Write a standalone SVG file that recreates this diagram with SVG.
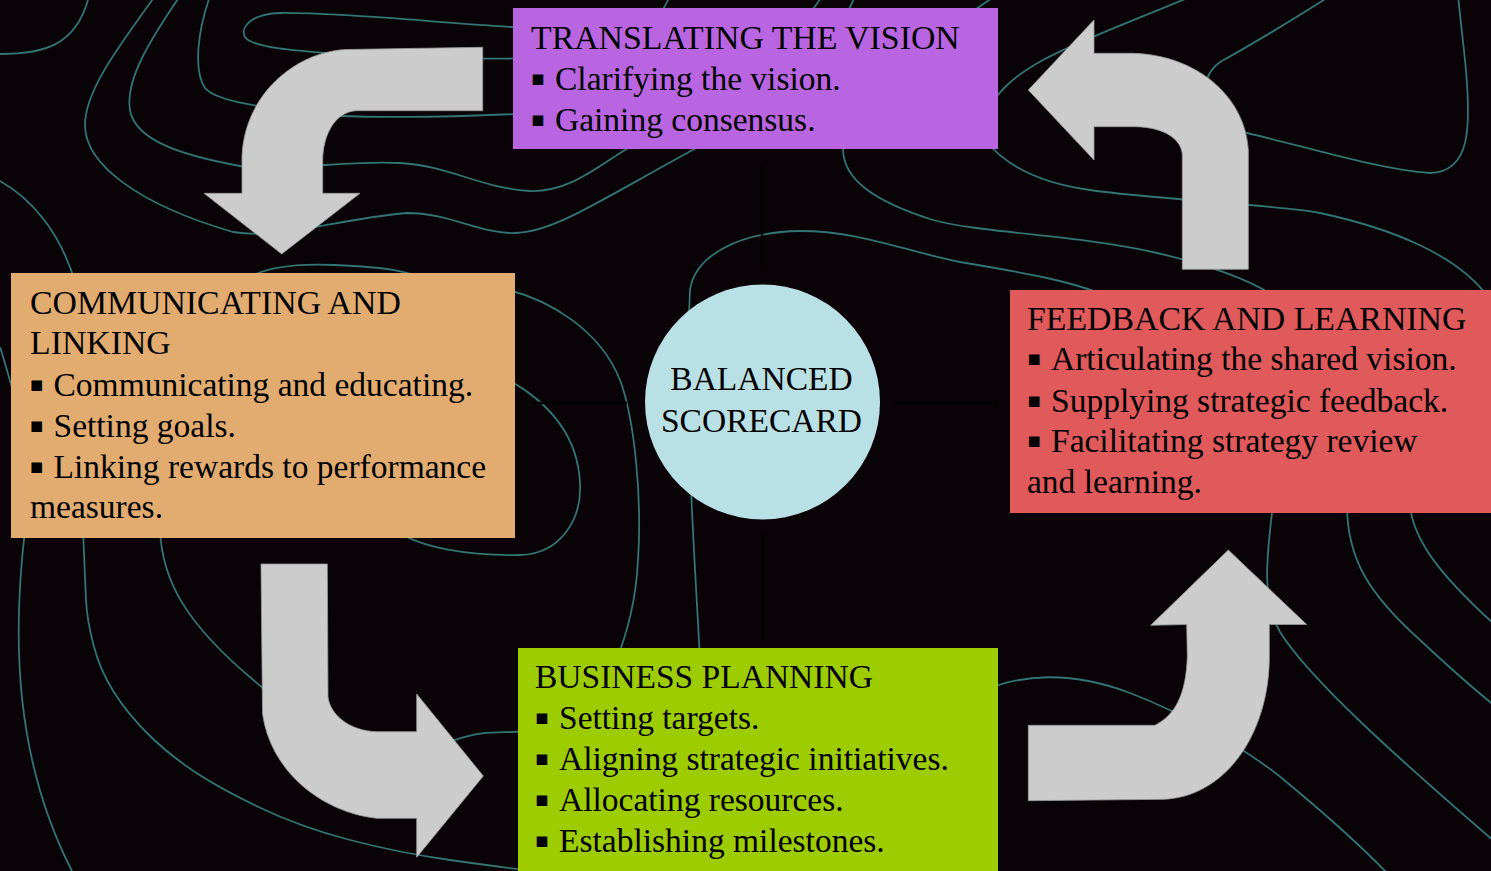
<svg xmlns="http://www.w3.org/2000/svg" width="1491" height="871" viewBox="0 0 1491 871">
  <style>
    .bg{fill:#090206}
    .contour{fill:none;stroke:#337474;stroke-width:1.8}
    .link{stroke:#000;stroke-width:2.5;fill:none}
    .arrow{fill:#cccccc;stroke:#9a9a9a;stroke-width:0.8}
    .t{font-family:"Liberation Serif","Times New Roman",serif;font-size:33.5px;fill:#000}
    .h{font-size:33.8px}
    .b{stroke:#000;stroke-width:2.2px;stroke-linejoin:miter}
    .c{text-anchor:middle}
  </style>

  <!-- background -->
  <rect class="bg" x="0" y="0" width="1491" height="871"/>

  <!-- topographic contour pattern -->
  <g id="contours" class="contour">
    <path d="M0,54 C45,54 75,45 88,0"/>
    <path d="M155,-4 C120,45 85,90 85,125 C85,165 140,205 233,232 C280,240 330,220 407,213 C450,213 480,234 515,233 C555,232 600,200 700,146 C765,110 830,60 855,-4"/>
    <path d="M180,-4 C150,40 125,80 130,110 C135,140 180,155 240,166 C290,172 340,160 400,163 C450,166 480,188 530,191 C570,192 600,165 625,150 C700,100 790,50 822,-4"/>
    <path d="M210,-4 C198,30 193,70 205,88 C215,100 250,105 300,113 C350,119 450,117 515,114 C580,112 640,60 670,-4"/>
    <path d="M530,28 C450,24 340,12 280,13 C250,14 240,28 245,37 C252,48 300,51 340,54 C420,58 480,60 530,58"/>
    <path d="M0,181 C30,198 60,230 76,285"/>
    <path d="M245,285 C250,268 295,263 335,265 C380,267 415,270 432,285"/>
    <path d="M0,347 C5,362 9,378 15,398"/>
    <path d="M25,530 C12,640 15,760 72,871"/>
    <path d="M83,530 L86,600 Q87,620 93.5,645 Q100,670 113.5,691.5 Q127,713 147,733 Q167,753 192,770 Q217,787 258.5,807 Q300,827 350,840 Q400,853 450,860 Q500,867 540,872"/>
    <path d="M160,530 C162,580 185,625 263,688 C295,725 420,752 455,740 S500,735 540,730"/>
    <path d="M395,530 C420,548 470,556 520,555 C560,554 582,520 580,483 C578,440 555,405 505,378"/>
    <path d="M505,289 C550,300 600,330 620,380 C635,420 642,500 638,560 C636,600 628,630 615,665"/>
    <path d="M700,660 C695,560 684,420 690,290 C695,255 740,232 800,231 C860,231 900,250 960,262 C1020,272 1080,282 1115,300"/>
    <path d="M995,-4 C930,40 843,100 843,150 C844,178 870,200 933,220 C980,233 1080,235 1157,253 C1200,263 1250,278 1280,300"/>
    <path d="M985,140 C1005,165 1040,183 1090,190 C1150,199 1280,205 1320,213 C1390,228 1460,255 1490,300"/>
    <path d="M985,115 C995,95 1010,78 1043,60 S1130,22 1190,-3"/>
    <path d="M1330,-4 C1300,15 1260,40 1220,62 C1195,80 1200,120 1247,133 C1300,145 1380,170 1430,173 C1470,172 1472,130 1465,60 L1458,-4"/>
    <path d="M1273,505 C1266,560 1262,600 1280,632 C1310,680 1400,760 1495,842"/>
    <path d="M1347,505 C1347,560 1370,595 1420,640 C1450,668 1475,690 1495,706"/>
    <path d="M1410,505 C1413,540 1440,575 1495,625"/>
    <path d="M985,690 C1020,675 1070,670 1130,693 C1180,712 1250,750 1290,785 C1330,818 1360,845 1390,876"/>
  </g>

  <!-- links from the hub and the cycle of block arrows -->
  <g id="connectors">
    <line class="link" x1="762" y1="167" x2="762" y2="270"/>
    <line class="link" x1="763" y1="535" x2="763" y2="640"/>
    <line class="link" x1="533" y1="403" x2="627" y2="403"/>
    <line class="link" x1="895" y1="403" x2="998" y2="403"/>

    <path id="arrow-vision-to-communicating" class="arrow" d="M482.7,47.3 L346,49.5 C295,52 244,95 242,157 L242,193.3 L204,193.3 L281.7,254 L360,193.3 L322.7,193.3 L322.7,160 C323,135 335,112 356,110.7 L482.7,110.7 Z"/>
    <path id="arrow-communicating-to-planning" class="arrow" d="M261,564 L327.3,564 L328,696.7 C330,715 350,731 376.7,731.7 L416.7,731.7 L416.7,694 L483.3,776 L416.7,857.3 L416.7,818.3 L376.7,818.3 C320,812 270,770 262.5,713.3 Z"/>
    <path id="arrow-planning-to-feedback" class="arrow" d="M1228.3,550 L1306.7,624.5 L1269.3,624.5 L1269.3,660 C1268,735 1225,797 1163.3,799.3 L1028.3,800.7 L1028.3,725.3 L1155,725.3 C1175,715 1186,695 1187.3,656.7 L1186.7,624.5 L1150.7,625.3 Z"/>
    <path id="arrow-feedback-to-vision" class="arrow" d="M1028.3,90 L1094,20 L1094,53.3 L1133,53.3 C1195,55 1245,95 1248.3,150 L1248.3,269.3 L1182.3,269.3 L1182.3,155 C1182,140 1165,127 1135,126.7 L1094,126.7 L1094,160 Z"/>
  </g>

  <!-- hub -->
  <g id="node-balanced-scorecard">
    <circle cx="762.5" cy="402" r="117.5" fill="#b9e0e4"/>
    <text class="t c" x="761.5" y="390">BALANCED</text>
    <text class="t c" x="761.5" y="431.5">SCORECARD</text>
  </g>

  <g id="node-translating">
    <rect x="513" y="8" width="485" height="141" fill="#b965e2"/>
    <text class="t h" x="531" y="48.5">TRANSLATING THE VISION</text>
    <text class="t" y="90"><tspan class="b" x="532">▪</tspan><tspan x="555">Clarifying the vision.</tspan></text>
    <text class="t" y="130.5"><tspan class="b" x="532">▪</tspan><tspan x="555">Gaining consensus.</tspan></text>
  </g>

  <g id="node-communicating">
    <rect x="11" y="273" width="504" height="265" fill="#e2ac71"/>
    <text class="t h" x="30" y="313.5">COMMUNICATING AND</text>
    <text class="t h" x="30" y="354">LINKING</text>
    <text class="t" y="395.5"><tspan class="b" x="30.7">▪</tspan><tspan x="53.5">Communicating and educating.</tspan></text>
    <text class="t" y="436.5"><tspan class="b" x="30.7">▪</tspan><tspan x="53.5">Setting goals.</tspan></text>
    <text class="t" y="477.5"><tspan class="b" x="30.7">▪</tspan><tspan x="53.5">Linking rewards to performance</tspan></text>
    <text class="t" x="30" y="518">measures.</text>
  </g>

  <g id="node-feedback">
    <rect x="1010" y="290" width="481" height="223" fill="#e0595b"/>
    <text class="t h" x="1027" y="329.5">FEEDBACK AND LEARNING</text>
    <text class="t" y="370"><tspan class="b" x="1028.3">▪</tspan><tspan x="1051">Articulating the shared vision.</tspan></text>
    <text class="t" y="411.5"><tspan class="b" x="1028.3">▪</tspan><tspan x="1051">Supplying strategic feedback.</tspan></text>
    <text class="t" y="452"><tspan class="b" x="1028.3">▪</tspan><tspan x="1051">Facilitating strategy review</tspan></text>
    <text class="t" x="1027" y="492.5">and learning.</text>
  </g>

  <g id="node-business-planning">
    <rect x="518" y="648" width="480" height="223" fill="#9dcd00"/>
    <text class="t" x="535" y="687.5">BUSINESS PLANNING</text>
    <text class="t" y="729"><tspan class="b" x="536">▪</tspan><tspan x="559">Setting targets.</tspan></text>
    <text class="t" y="770"><tspan class="b" x="536">▪</tspan><tspan x="559">Aligning strategic initiatives.</tspan></text>
    <text class="t" y="811"><tspan class="b" x="536">▪</tspan><tspan x="559">Allocating resources.</tspan></text>
    <text class="t" y="852"><tspan class="b" x="536">▪</tspan><tspan x="559">Establishing milestones.</tspan></text>
  </g>
</svg>
